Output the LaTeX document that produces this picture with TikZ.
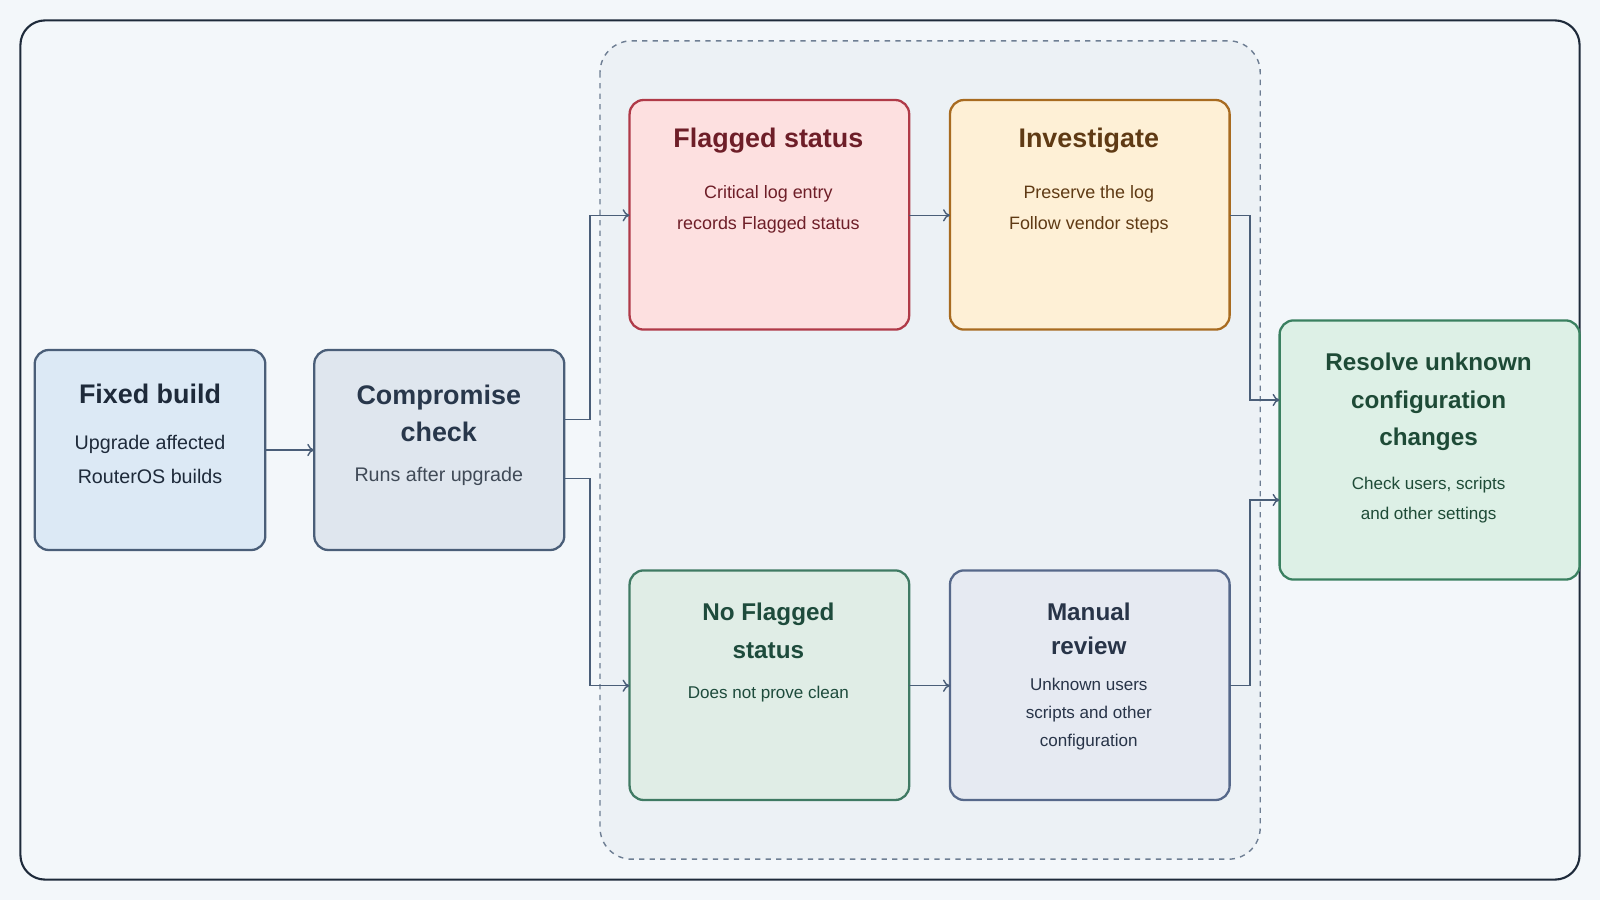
\documentclass[tikz,border=0pt]{standalone}
\usepackage{fontspec}
\setmainfont{Liberation Sans}
\usetikzlibrary{positioning,calc,arrows.meta}
\definecolor{bgc}{HTML}{F3F7FA}
\definecolor{grpc}{HTML}{ECF1F5}
\definecolor{ink}{HTML}{1E2A3A}
\definecolor{edgec}{HTML}{4A5E78}
\tikzset{
  box/.style={draw, line width=1.3pt, rounded corners=8pt},
  ttl/.style={font=\bfseries\fontsize{15.3}{18}\selectfont, align=center},
  txt/.style={font=\fontsize{11.2}{19.4}\selectfont, align=center},
  sml/.style={font=\fontsize{10.2}{17.3}\selectfont, align=center},
  link/.style={draw=edgec, line width=0.8pt, -{To[length=4pt,width=7pt]}},
}
\begin{document}
\begin{tikzpicture}[x=0.020408cm, y=-0.020408cm]
    \fill[bgc] (0,0) rectangle (1568,882);
    \useasboundingbox (0,0) rectangle (1568,882);
    \draw[ink, line width=1.2pt, rounded corners=14pt] (20,20) rectangle (1548,862);
    \draw[edgec!80, fill=grpc, dashed, line width=0.8pt, rounded corners=18pt] (588,40) rectangle (1235,842);
    % boxes
    \draw[box, draw=edgec, fill={rgb,255:red,220;green,233;blue,245}] (34,343) rectangle (260,539);
    \draw[box, draw=edgec, fill={rgb,255:red,223;green,230;blue,238}] (308,343) rectangle (553,539);
    \draw[box, draw={rgb,255:red,176;green,58;blue,72}, fill={rgb,255:red,253;green,224;blue,224}] (617,98) rectangle (891,323);
    \draw[box, draw={rgb,255:red,168;green,107;blue,32}, fill={rgb,255:red,254;green,240;blue,214}] (931,98) rectangle (1205,323);
    \draw[box, draw={rgb,255:red,63;green,122;blue,99}, fill={rgb,255:red,224;green,237;blue,230}] (617,559) rectangle (891,784);
    \draw[box, draw={rgb,255:red,86;green,104;blue,138}, fill={rgb,255:red,230;green,234;blue,242}] (931,559) rectangle (1205,784);
    \draw[box, draw={rgb,255:red,58;green,128;blue,96}, fill={rgb,255:red,221;green,240;blue,230}] (1254,314) rectangle (1548,568);
    % anchor points
    \coordinate (fixR) at (260,441);
    \coordinate (chkL) at (308,441);
    \coordinate (chkU) at (553,411);
    \coordinate (chkD) at (553,469);
    \coordinate (flgL) at (617,211);
    \coordinate (flgR) at (891,211);
    \coordinate (invL) at (931,211);
    \coordinate (invR) at (1205,211);
    \coordinate (nflL) at (617,672);
    \coordinate (nflR) at (891,672);
    \coordinate (manL) at (931,672);
    \coordinate (manR) at (1205,672);
    \coordinate (resU) at (1254,392);
    \coordinate (resD) at (1254,490);
    % texts
    \node[ttl, text={rgb,255:red,30;green,42;blue,58}] (fixT) at (147,386) {Fixed build};
    \node[txt, text=ink] at (147,450) {Upgrade affected\\RouterOS builds};
    \node[ttl, text={rgb,255:red,40;green,55;blue,75}, font=\bfseries\fontsize{15.3}{21.4}\selectfont] (chkT) at (430,405) {Compromise\\check};
    \node[txt, text=ink!85] at (430,467) {Runs after upgrade};
    \node[ttl, text={rgb,255:red,110;green,30;blue,40}] (flgT) at (753,138) {Flagged status};
    \node[sml, text={rgb,255:red,110;green,30;blue,40}] at (753,205) {Critical log entry\\records Flagged status};
    \node[ttl, text={rgb,255:red,95;green,58;blue,20}] (invT) at (1067,138) {Investigate};
    \node[sml, text={rgb,255:red,95;green,58;blue,20}] at (1067,205) {Preserve the log\\Follow vendor steps};
    \node[ttl, text={rgb,255:red,30;green,75;blue,60}, font=\bfseries\fontsize{13.8}{21.4}\selectfont] (nflT) at (753,618) {No Flagged\\status};
    \node[sml, text={rgb,255:red,30;green,75;blue,60}, font=\fontsize{9.7}{16}\selectfont] at (753,680) {Does not prove clean};
    \node[ttl, text={rgb,255:red,40;green,52;blue,72}, font=\bfseries\fontsize{13.8}{19.4}\selectfont] (manT) at (1067,616) {Manual\\review};
    \node[sml, text={rgb,255:red,40;green,52;blue,72}, font=\fontsize{9.7}{15.8}\selectfont] at (1067,700) {Unknown users\\scripts and other\\configuration};
    \node[ttl, text={rgb,255:red,30;green,75;blue,55}, font=\bfseries\fontsize{13.8}{21.4}\selectfont] (resT) at (1400,394) {Resolve unknown\\configuration\\changes};
    \node[sml, text={rgb,255:red,30;green,75;blue,55}, font=\fontsize{9.7}{17.3}\selectfont] at (1400,490) {Check users, scripts\\and other settings};
    % connectors
    \draw[link] (fixR) -- (chkL);
    \draw[link] (chkU) -- ++(25,0) |- (flgL);
    \draw[link] (chkD) -- ++(25,0) |- (nflL);
    \draw[link] (flgR) -- (invL);
    \draw[link] (nflR) -- (manL);
    \draw[link] (invR) -- ++(20,0) |- (resU);
    \draw[link] (manR) -- ++(20,0) |- (resD);
\end{tikzpicture}
\end{document}
